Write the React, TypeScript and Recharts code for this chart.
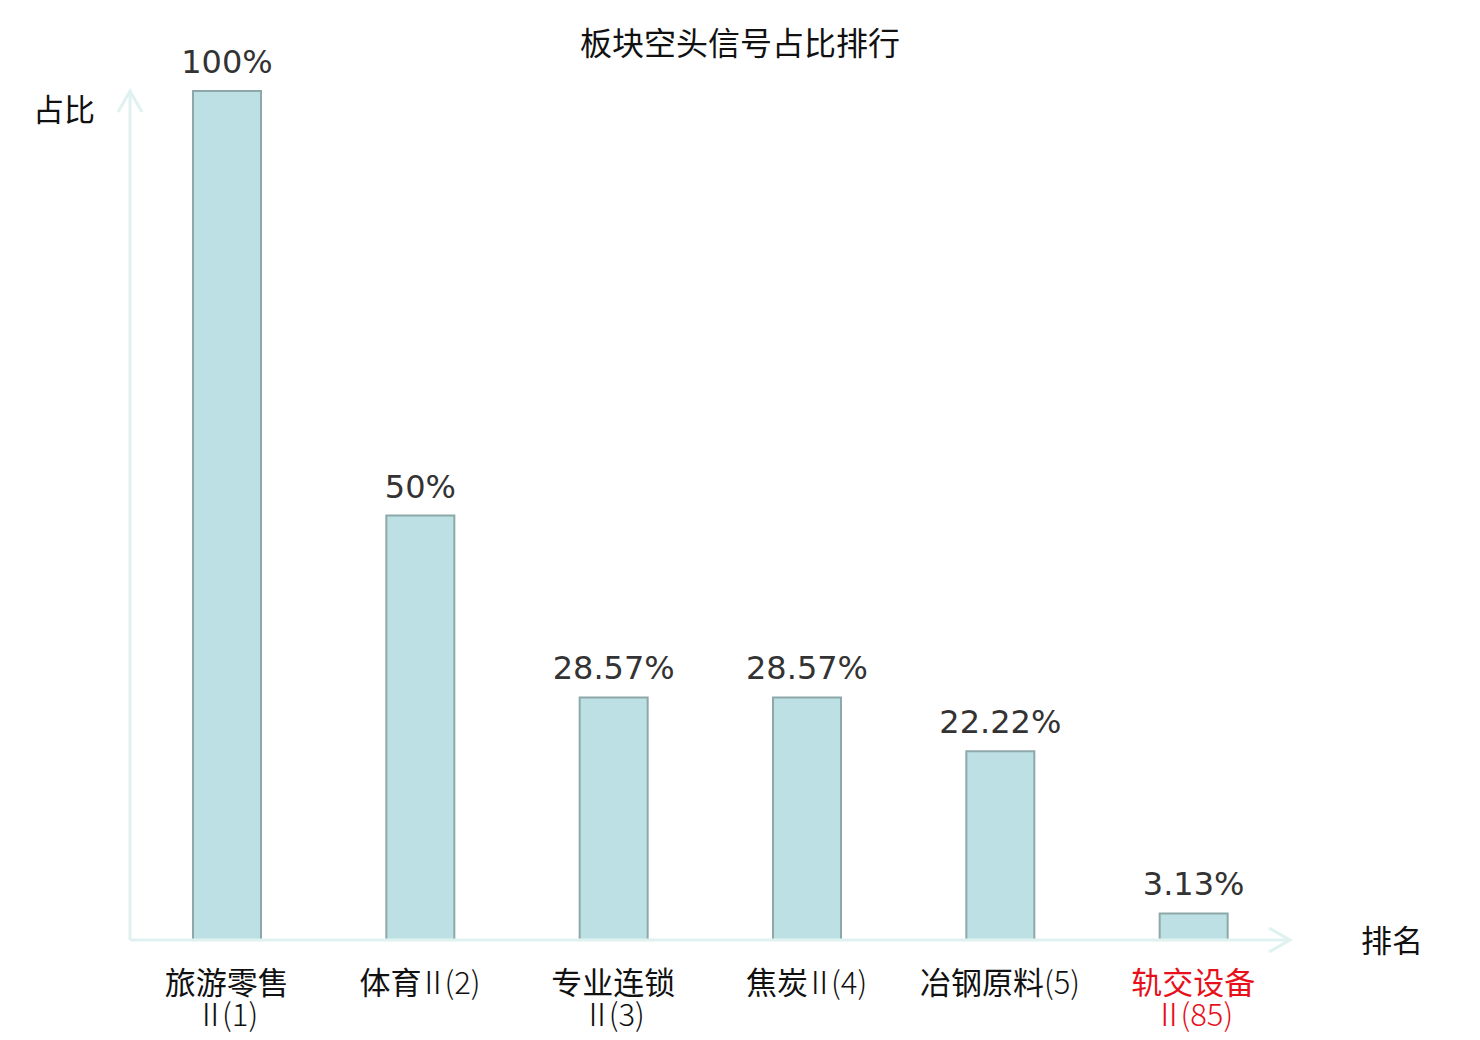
import React from 'react';
import { BarChart, Bar, XAxis, YAxis, LabelList } from 'recharts';

const categories = ['旅游零售Ⅱ(1)', '体育Ⅱ(2)', '专业连锁Ⅱ(3)', '焦炭Ⅱ(4)', '冶钢原料(5)', '轨交设备Ⅱ(85)'];
const ratios = [100, 50, 28.57, 28.57, 22.22, 3.13];
const highlighted = ['轨交设备Ⅱ(85)'];
const yTicks = [0, 100];

const data = categories.map((name, i) => ({ name, value: ratios[i] }));

const AXIS_COLOR = '#dff2ef';
const CJK = '"Noto Sans CJK SC", "DejaVu Sans", sans-serif';
const NUM = '"DejaVu Sans", "Noto Sans CJK SC", sans-serif';

function wrapLabel(label: string): string[] {
  if (label.length > 7) return [label.slice(0, 4), label.slice(4)];
  return [label];
}

type Seg = { t: string; kind: 'cjk' | 'roman' | 'latin' };

function segments(s: string): Seg[] {
  const out: Seg[] = [];
  for (const ch of s) {
    const kind: Seg['kind'] = /[\u4e00-\u9fff]/.test(ch) ? 'cjk' : /[\u2160-\u217f]/.test(ch) ? 'roman' : 'latin';
    const last = out[out.length - 1];
    if (last && last.kind === kind) last.t += ch;
    else out.push({ t: ch, kind });
  }
  return out;
}

const Tick = (props: any) => {
  const { x, y, payload } = props;
  const label: string = payload.value;
  const lines = wrapLabel(label);
  const color = highlighted.includes(label) ? '#e8101a' : '#111';
  return (
    <g transform={`translate(${x},${y})`}>
      {lines.map((ln, i) => {
        const segs = segments(ln);
        return (
          <text
            key={i}
            x={0}
            y={0}
            dy={46 + i * 32}
            textAnchor="middle"
            fill={color}
            fontSize={31}
            fontFamily={CJK}
          >
            {segs.map((sg, j) => {
              if (sg.kind === 'cjk') return <tspan key={j}>{sg.t}</tspan>;
              const afterRoman = j > 0 && segs[j - 1].kind === 'roman';
              if (sg.kind === 'roman')
                return (
                  <tspan key={j} fontWeight={300} dx={j > 0 ? -4 : 0}>
                    {sg.t}
                  </tspan>
                );
              return (
                <tspan key={j} fontWeight={300} dx={afterRoman ? -4 : 0}>
                  {sg.t}
                </tspan>
              );
            })}
          </text>
        );
      })}
    </g>
  );
};

export default function App() {
  return (
    <div style={{ position: 'absolute', left: 0, top: 0, width: 1480, height: 1040, background: '#fff' }}>
      <svg width={0} height={0} style={{ position: 'absolute' }}>
        <defs>
          <marker
            id="axisArrow"
            markerUnits="userSpaceOnUse"
            markerWidth={30}
            markerHeight={30}
            viewBox="0 0 30 30"
            refX={24}
            refY={15}
            orient="auto-start-reverse"
          >
            <path d="M3,3 L24,15 L3,27" fill="none" stroke={AXIS_COLOR} strokeWidth={3} />
          </marker>
        </defs>
      </svg>
      <div
        style={{
          position: 'absolute',
          left: 0,
          top: 21,
          width: 1480,
          textAlign: 'center',
          fontFamily: CJK,
          fontSize: 32,
          color: '#111',
          lineHeight: '40px',
        }}
      >
        板块空头信号占比排行
      </div>
      <div
        style={{
          position: 'absolute',
          left: 33,
          top: 88,
          fontFamily: CJK,
          fontSize: 31,
          color: '#111',
          lineHeight: '40px',
        }}
      >
        占比
      </div>
      <div
        style={{
          position: 'absolute',
          left: 1361,
          top: 919,
          fontFamily: CJK,
          fontSize: 31,
          color: '#111',
          lineHeight: '40px',
        }}
      >
        排名
      </div>
      <BarChart
        width={1480}
        height={1040}
        data={data}
        margin={{ top: 91, right: 190, bottom: 40, left: 129 }}
        barCategoryGap={0}
      >
        <XAxis
          dataKey="name"
          height={60}
          tickLine={false}
          interval={0}
          tick={<Tick />}
          axisLine={{ stroke: AXIS_COLOR, strokeWidth: 3, markerEnd: 'url(#axisArrow)' } as any}
        />
        <YAxis
          width={1}
          domain={[0, 100]}
          ticks={yTicks}
          tick={false}
          tickLine={false}
          axisLine={{ stroke: AXIS_COLOR, strokeWidth: 3, markerStart: 'url(#axisArrow)' } as any}
        />
        <Bar
          dataKey="value"
          barSize={68}
          fill="#bce0e3"
          stroke="#8ea8aa"
          strokeWidth={2}
          isAnimationActive={false}
        >
          <LabelList
            dataKey="value"
            position="top"
            offset={18}
            formatter={(v: any) => `${v}%`}
            fill="#333"
            fontSize={32}
            fontFamily={NUM}
          />
        </Bar>
      </BarChart>
    </div>
  );
}
